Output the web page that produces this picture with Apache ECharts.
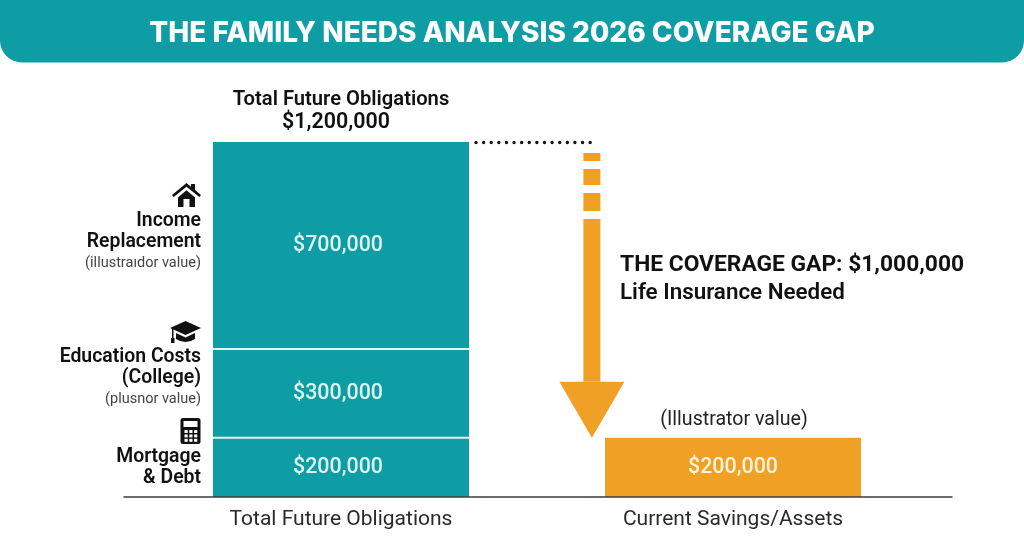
<!DOCTYPE html>
<html>
<head>
<meta charset="utf-8">
<style>html,body{margin:0;padding:0;background:#fff}#chart{width:1024px;height:559px}</style>
<script src="https://cdn.jsdelivr.net/npm/echarts@6/dist/echarts.min.js"></script>
</head>
<body>
<div id="chart"></div>
<script>
// Family needs analysis: obligations stacked against current savings.
const categories = ['Total Future Obligations', 'Current Savings/Assets'];
const mortgageDebt = [200000, null];
const educationCosts = [300000, null];
const incomeReplacement = [700000, null];
const currentSavings = [null, 200000];
const totalObligations = 1200000;
const coverageGap = 1000000;

const TEAL = '#0e9ca5';
const ORANGE = '#f0a024';
const SEGMENT_TEXT = '#dcf3ee';
const BAR_WIDTH = 256;
const money = v => '$' + v.toLocaleString('en-US');
const FONT = 'Roboto';

// Arrow sits 64% of the way from the first column to the second.
const ARROW_ALONG = 0.64;

function text(x, y, str, size, weight, color, align) {
  return {
    type: 'text', x, y, z: 20,
    style: { text: str, fontFamily: FONT, fontSize: size, fontWeight: weight, fill: color,
             textAlign: align || 'right', textVerticalAlign: 'middle' }
  };
}
function icon(points) {
  return { type: 'polygon', z: 20, shape: { points }, style: { fill: '#111' } };
}
const calcButtons = [];
[0, 1, 2].forEach(r => [0, 1, 2].forEach(c => calcButtons.push({
  type: 'rect', z: 21,
  shape: { x: 184.5 + c * 4.8, y: 430 + r * 4.4, width: 3.2, height: 3 },
  style: { fill: '#fff' }
})));

const chart = echarts.init(document.getElementById('chart'), null, { renderer: 'canvas' });
chart.setOption({
  backgroundColor: '#fff',
  animation: false,
  title: {
    text: 'THE FAMILY NEEDS ANALYSIS 2026 COVERAGE GAP',
    left: 507, top: 15, textAlign: 'center', z: 30,
    textStyle: { fontFamily: 'Inter', fontWeight: 800, fontSize: 28, color: '#fff' }
  },
  grid: [
    { left: 145, width: 784, top: 142, height: 355 },
    { left: 124, width: 828, top: 142, height: 355 }
  ],
  xAxis: [
    {
      type: 'category', gridIndex: 0, data: categories,
      axisLine: { show: false }, axisTick: { show: false },
      axisLabel: { fontFamily: FONT, fontSize: 21, color: '#2a2a2a', margin: 12 }
    },
    {
      type: 'category', gridIndex: 1, data: [''], z: 10,
      axisLine: { show: true, lineStyle: { color: '#3c3c3c', width: 1.5 } },
      axisTick: { show: false }, axisLabel: { show: false }
    }
  ],
  yAxis: [
    { type: 'value', gridIndex: 0, min: 0, max: totalObligations, show: false, splitLine: { show: false } },
    { type: 'value', gridIndex: 1, min: 0, max: totalObligations, show: false, splitLine: { show: false } }
  ],
  series: [
    ...[
      ['Mortgage & Debt', mortgageDebt],
      ['Education Costs (College)', educationCosts],
      ['Income Replacement', incomeReplacement]
    ].map(([name, data]) => ({
      name, type: 'bar', stack: 'needs', data, barWidth: BAR_WIDTH,
      itemStyle: { color: TEAL },
      label: {
        show: true, position: 'inside', offset: [-3, 0], formatter: p => money(p.value),
        fontFamily: FONT, fontSize: 21.4, fontWeight: 500, color: SEGMENT_TEXT
      }
    })),
    {
      name: 'Current Savings/Assets', type: 'bar', stack: 'needs', data: currentSavings,
      itemStyle: { color: ORANGE },
      label: {
        show: true, position: 'inside', formatter: p => money(p.value),
        fontFamily: FONT, fontSize: 21.4, fontWeight: 500, color: '#fdf3dc'
      }
    },
    {
      // Light rules between the stacked segments.
      name: 'Segment dividers', type: 'custom', z: 5, silent: true,
      data: [mortgageDebt[0], mortgageDebt[0] + educationCosts[0]],
      renderItem(params, api) {
        const p = api.coord([0, api.value(0)]);
        return {
          type: 'line',
          shape: { x1: p[0] - BAR_WIDTH / 2, y1: p[1], x2: p[0] + BAR_WIDTH / 2, y2: p[1] },
          style: { stroke: '#e2f8f8', lineWidth: 2 }
        };
      },
      encode: { y: 0 }
    },
    {
      // Dotted reference from the total plus the dashed gap arrow down to savings.
      name: 'Coverage gap', type: 'custom', z: 6, silent: true,
      data: [[totalObligations, totalObligations - coverageGap]],
      encode: { y: [0, 1] },
      renderItem(params, api) {
        const first = api.coord([0, api.value(0)]);
        const second = api.coord([1, api.value(1)]);
        const top = first[1], tip = second[1];
        const cx = first[0] + (second[0] - first[0]) * ARROW_ALONG;
        const headTop = tip - 56;
        const seg = (a, b) => ({
          type: 'rect',
          shape: { x: cx - 8.5, y: top + a, width: 17, height: b - a },
          style: { fill: ORANGE }
        });
        return {
          type: 'group',
          children: [
            {
              type: 'line',
              shape: { x1: first[0] + BAR_WIDTH / 2 + 7, y1: top + 0.5, x2: cx + 5, y2: top + 0.5 },
              style: { stroke: '#111', lineWidth: 3.4, lineCap: 'round', lineDash: [0.01, 7.6] }
            },
            seg(11, 19), seg(27, 43), seg(51, 69),
            { type: 'rect',
              shape: { x: cx - 8.5, y: top + 77, width: 17, height: headTop - top - 77 },
              style: { fill: ORANGE } },
            { type: 'polygon',
              shape: { points: [[cx - 32.5, headTop], [cx + 32.5, headTop], [cx, tip]] },
              style: { fill: ORANGE } },
            { type: 'text', x: second[0] + 1, y: tip - 18,
              style: { text: '(Illustrator value)', fontFamily: FONT, fontSize: 19.6,
                       fill: '#222', textAlign: 'center', textVerticalAlign: 'middle' } }
          ]
        };
      }
    }
  ],
  graphic: [
    {
      type: 'rect', z: 1, silent: true,
      shape: { x: 0, y: -30, width: 1024, height: 92.5, r: 22 },
      style: { fill: TEAL }
    },
    text(341, 100, categories[0], 20.2, 600, '#111', 'center'),
    text(336, 123, money(totalObligations), 21.4, 600, '#111', 'center'),

    icon([[172, 195], [186.5, 183], [191, 186.7], [191, 184], [195, 184], [195, 190], [201, 195], [199.3, 197], [186.5, 186.7], [173.7, 197]]),
    icon([[178, 197.5], [186.5, 190.3], [195, 197.5], [195, 207], [189.5, 207], [189.5, 199], [183.5, 199], [183.5, 207], [178, 207]]),
    text(201, 221, 'Income', 19.4, 600, '#111'),
    text(201, 242, 'Replacement', 19.4, 600, '#111'),
    text(201, 263, '(illustraıdor value)', 14.5, 400, '#444'),

    icon([[185.5, 321], [201, 328], [185.5, 335], [170, 328]]),
    icon([[176, 333], [185.5, 337.5], [195, 333], [195, 339], [191, 341], [185.5, 342], [180, 341], [176, 339]]),
    icon([[172, 329], [173.5, 329], [173.5, 338], [174.5, 338], [174.5, 343], [171, 343], [171, 338], [172, 338]]),
    text(201, 357, 'Education Costs', 19.4, 600, '#111'),
    text(201, 378, '(College)', 19.4, 600, '#111'),
    text(201, 399, '(plusnor value)', 14.5, 400, '#444'),

    { type: 'rect', z: 20, shape: { x: 180.5, y: 418, width: 20, height: 26, r: 2.5 }, style: { fill: '#111' } },
    { type: 'rect', z: 21, shape: { x: 183.5, y: 421, width: 14, height: 6 }, style: { fill: '#fff' } },
    ...calcButtons,
    text(201, 457, 'Mortgage', 19.4, 600, '#111'),
    text(201, 478, '& Debt', 19.4, 600, '#111'),

    text(620, 265, 'THE COVERAGE GAP: ' + money(coverageGap), 22.8, 700, '#111', 'left'),
    text(620, 293, 'Life Insurance Needed', 22.4, 600, '#111', 'left')
  ]
});
</script>
</body>
</html>
